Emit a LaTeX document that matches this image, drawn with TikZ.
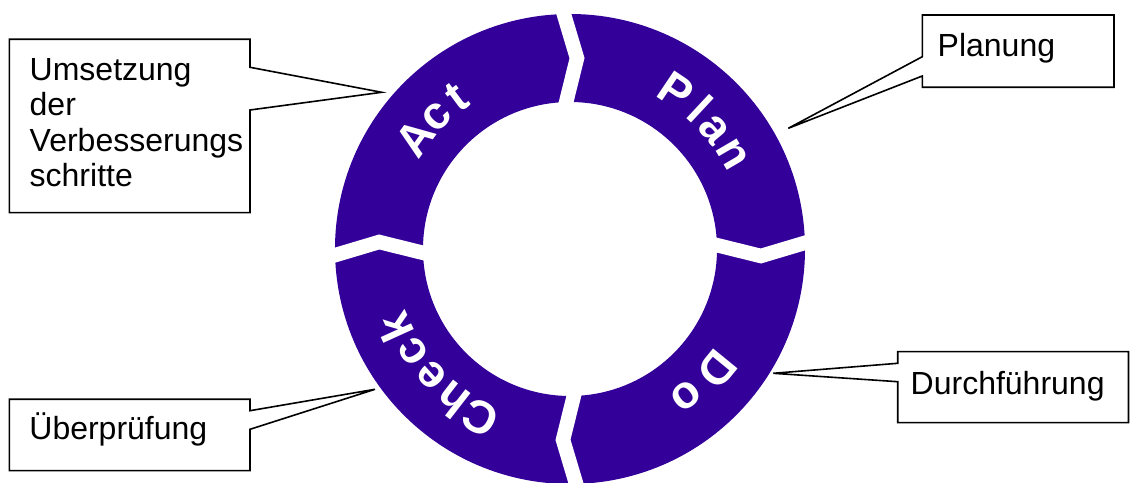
\documentclass[tikz,border=0pt]{standalone}
\usepackage{fontspec}
\setmainfont{Liberation Sans}
\usetikzlibrary{calc,backgrounds}
\definecolor{ringblue}{RGB}{51,0,153}

\begin{document}
\begin{tikzpicture}[x=1pt, y=1pt,
  outline/.style={draw=black, line width=1.6pt, fill=white, line join=miter},
  boxshape/.style={rectangle, inner sep=0pt, outer sep=0pt, anchor=north west},
  callouttext/.style={font=\fontsize{32}{35.6}\selectfont, inner sep=0pt, align=left},
  gapcut/.style={white, line width=14.5pt, line join=miter},
  ringletter/.style={font=\fontsize{46}{46}\selectfont\bfseries, text=white,
      inner sep=0pt, anchor=base}
]
\useasboundingbox (0,0) rectangle (1130,482);

% PDCA ring with chevron-shaped gaps
\begin{scope}[shift={(570,233)}]
  \fill[ringblue, even odd rule] (0,0) circle[radius=235pt] (0,0) circle[radius=147pt];
  \foreach \g in {91.5,1.5,-88.5,181.5}{
    \draw[gapcut] ($({\g-3.6}:191pt)!1.3!(\g:235pt)$) -- ({\g-3.6}:191pt)
                  -- ($({\g-3.6}:191pt)!1.3!(\g:147pt)$);
  }
  % words set letter by letter along the ring, tops facing outwards
  \foreach \ch/\a [count=\i] in {P/56.1, l/47.0, a/39.8, n/30.3}
    \node[ringletter, rotate=\a-90] (plan\i) at (\a:175pt) {\ch};
  \foreach \ch/\a [count=\i] in {D/-39.3, o/-51.8}
    \node[ringletter, rotate=\a-90] (do\i) at (\a:175pt) {\ch};
  \foreach \ch/\a [count=\i] in {C/242, h/232.2, e/222.3, c/213.1, k/204.4}
    \node[ringletter, rotate=\a-90] (check\i) at (\a:175pt) {\ch};
  \foreach \ch/\a [count=\i] in {A/144.4, c/135.2, t/126.7}
    \node[ringletter, rotate=\a-90] (act\i) at (\a:175pt) {\ch};
\end{scope}

% callout boxes
\node[boxshape, minimum width=240.7pt, minimum height=173.4pt] (actbox)   at (9.3,442.7) {};
\node[boxshape, minimum width=191.7pt, minimum height=72.3pt]  (planbox)  at (922.3,467) {};
\node[boxshape, minimum width=230.8pt, minimum height=71pt]    (dobox)    at (897.7,130.3) {};
\node[boxshape, minimum width=240.7pt, minimum height=71.4pt]  (checkbox) at (9.3,82.7) {};

\coordinate (acttip)   at (381.7,389.7);
\coordinate (plantip)  at (788.3,353.7);
\coordinate (dotip)    at (773.3,108.7);
\coordinate (checktip) at (375,92.7);

\begin{pgfonlayer}{background}
  \path[outline] (actbox.north west) -- (actbox.north east)
    -- ([yshift=-28pt]actbox.north east) -- (acttip) -- ([yshift=-70.7pt]actbox.north east)
    -- (actbox.south east) -- (actbox.south west) -- cycle;
  \path[outline] (planbox.north west) -- (planbox.north east) -- (planbox.south east)
    -- (planbox.south west) -- ([yshift=-61pt]planbox.north west) -- (plantip)
    -- ([yshift=-41.7pt]planbox.north west) -- cycle;
  \path[outline] (dobox.north west) -- (dobox.north east) -- (dobox.south east)
    -- (dobox.south west) -- ([yshift=-30pt]dobox.north west) -- (dotip)
    -- ([yshift=-11.6pt]dobox.north west) -- cycle;
  \path[outline] (checkbox.north west) -- (checkbox.north east)
    -- ([yshift=-11.4pt]checkbox.north east) -- (checktip) -- ([yshift=-30pt]checkbox.north east)
    -- (checkbox.south east) -- (checkbox.south west) -- cycle;
\end{pgfonlayer}

% callout texts
\node[callouttext, anchor=north west] (acttext)   at (29.5,424.2) {Umsetzung\\der\\Verbesserungs\\schritte};
\node[callouttext, anchor=base west]  (plantext)  at (937.5,425.3) {Planung};
\node[callouttext, anchor=base west]  (dotext)    at (910.5,87) {Durchführung};
\node[callouttext, anchor=base west]  (checktext) at (29.2,42) {Überprüfung};
\end{tikzpicture}
\end{document}
